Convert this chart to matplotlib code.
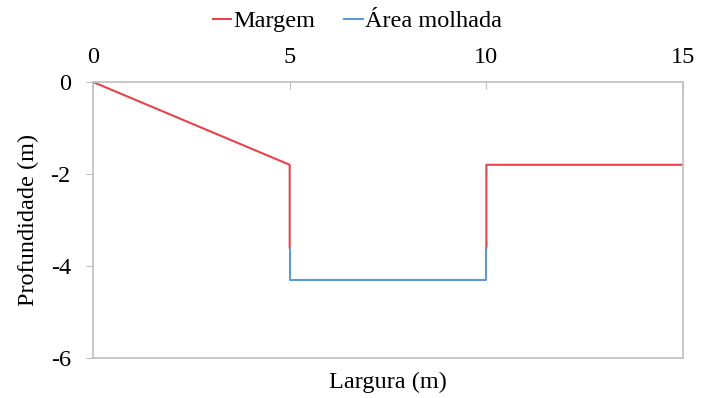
import numpy as np
import matplotlib
matplotlib.use("Agg")
import matplotlib.pyplot as plt

# river cross-section profile
margem_x = [0, 5, 5, np.nan, 10, 10, 15]
margem_y = [0, -1.8, -3.6, np.nan, -3.6, -1.8, -1.8]
molhada_x = [5, 5, 10, 10]
molhada_y = [-3.6, -4.3, -4.3, -3.6]

x_ticks = [0, 5, 10, 15]
y_ticks = [0, -2, -4, -6]

plt.rcParams["font.family"] = ["Liberation Serif", "DejaVu Serif"]
plt.rcParams["font.size"] = 17.5
plt.rcParams["axes.unicode_minus"] = False

fig = plt.figure(figsize=(7.02, 3.98), dpi=100)
ax = fig.add_axes([0.1325, 0.1005, 0.8405, 0.6935])

ax.plot(margem_x, margem_y, color="#e8434a", lw=1.5, label="Margem")
ax.plot(molhada_x, molhada_y, color="#5b9bd5", lw=1.5, label="Área molhada")

ax.set_xlim(0, 15)
ax.set_ylim(-6, 0)
ax.set_xticks(x_ticks)
ax.set_yticks(y_ticks)
ax.xaxis.tick_top()
ax.xaxis.set_label_position("bottom")
ax.tick_params(axis="x", direction="in", length=5, color="#bfbfbf", pad=10)
ax.tick_params(axis="y", direction="out", length=5, color="#bfbfbf", pad=11)
for s in ax.spines.values():
    s.set_color("#bfbfbf")
    s.set_linewidth(1.2)

ax.set_xlabel("Largura (m)", labelpad=10)
ax.set_ylabel("Profundidade (m)", labelpad=8)

fig.legend(loc="center", bbox_to_anchor=(0.509, 0.947), ncol=2, frameon=False,
           handlelength=0.75, handletextpad=0.1, columnspacing=1.2)

fig.savefig("out.png", dpi=100)
